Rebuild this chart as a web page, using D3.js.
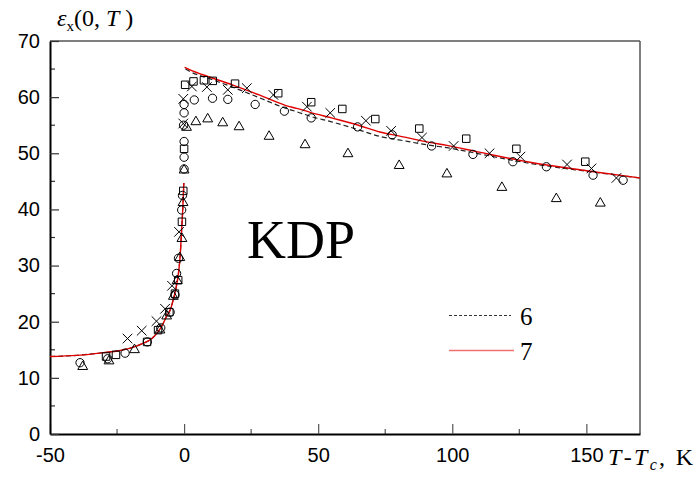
<!DOCTYPE html>
<html>
<head>
<meta charset="utf-8">
<script src="https://cdn.jsdelivr.net/npm/d3@7"></script>
<style>
  html, body { margin: 0; padding: 0; background: #fff; }
  svg { display: block; }
</style>
</head>
<body>
<svg id="chart" width="695" height="480"></svg>
<script>
// Permittivity of KDP versus T - Tc: four measured sets and two model curves (6, 7)
const squares = [
  [-29.1,13.8],[-25.4,14.1],[-13.8,16.4],[-9.7,18.5],[-5.5,21.7],[-3.4,25.0],[-2.2,27.4],
  [-0.8,37.8],[-0.3,43.3],[0.0,50.8],[0.4,62.2],[3.5,62.8],[7.4,63.0],[10.7,62.9],[19.0,62.4],
  [35.1,60.7],[47.4,59.1],[59.0,57.9],[71.3,56.1],[87.7,54.4],[105.2,52.6],[123.9,50.8],[149.6,48.5]
];
const crosses = [
  [-21.1,17.0],[-15.8,18.4],[-10.3,20.1],[-7.1,22.3],[-4.5,26.4],[-1.9,36.0],[-0.3,55.3],[-0.3,59.7],
  [2.9,61.9],[8.5,61.8],[16.3,61.3],[23.4,61.6],[33.3,60.4],[45.8,58.3],[54.5,57.2],[67.8,55.8],
  [77.2,54.0],[88.7,52.8],[100.5,51.3],[113.9,50.0],[125.4,49.4],[142.8,48.0],[151.9,47.3],[161.2,45.6]
];
const circles = [
  [-38.8,12.7],[-28.5,13.4],[-22.0,14.4],[-13.7,16.4],[-8.7,18.9],[-5.2,21.7],[-3.4,24.8],[-2.8,28.6],
  [-2.1,31.3],[-0.9,39.9],[-0.6,42.5],[0.0,47.2],[0.0,49.3],[0.0,52.1],[-0.2,55.0],[0.0,57.2],[0.0,58.7],
  [3.8,59.5],[10.6,59.8],[16.3,59.6],[26.5,58.7],[37.4,57.5],[47.4,56.3],[64.7,54.7],[77.6,53.3],
  [92.3,51.3],[107.7,49.8],[122.6,48.5],[135.1,47.6],[152.5,46.1],[163.7,45.2]
];
const triangles = [
  [-37.8,12.0],[-28.0,13.0],[-18.5,15.0],[-9.0,18.5],[-6.5,21.0],[-4.0,24.5],[-2.6,27.3],[-1.6,31.4],
  [-0.8,34.8],[-0.4,41.2],[0.0,47.0],[0.9,54.6],[4.4,55.6],[8.8,56.1],[14.4,55.4],[20.5,54.7],
  [31.7,53.0],[45.1,51.5],[61.1,49.9],[80.2,47.8],[98.0,46.3],[118.5,43.9],[138.8,41.9],[155.2,41.1]
];

// Model curves: below Tc (shared shape) and above Tc
const fit6Below = [
  [-50,13.8],[-40,14.0],[-30,14.5],[-26,14.7],[-20,15.3],[-16,16.0],[-12,17.0],[-10,18.0],[-8,19.5],
  [-6.5,21.0],[-5,22.3],[-4,24.0],[-3,26.0],[-2,29.0],[-1.5,31.5],[-0.9,36.5],[-0.5,40.0],[-0.1,44.7]
];
const fit6Above = [
  [0.5,65.0],[2,64.6],[10,63.2],[18,61.8],[28,59.9],[38,58.0],[42,57.4],[47,56.6],[55,55.6],[65,54.2],
  [73,53.0],[80,52.4],[92,51.4],[98,51.0],[110,49.9],[129,48.2],[150,46.8],[170,45.6]
];
const fit7Below = fit6Below.map(d => d.slice());
const fit7Above = [
  [0.2,65.3],[2,64.9],[10,63.5],[18,62.2],[28,60.4],[38,58.5],[42,58.0],[47,57.3],[55,56.3],[65,55.0],
  [73,53.8],[80,53.1],[92,51.9],[98,51.4],[110,50.2],[129,48.4],[150,46.9],[170,45.6]
];

const xTicks = [-50, 0, 50, 100, 150];
const yTicks = [0, 10, 20, 30, 40, 50, 60, 70];
const legendLabels = ["6", "7"];

const svg = d3.select("#chart");
const plotLeft = 50, plotRight = 640, plotTop = 41, plotBottom = 434;

const x = d3.scaleLinear().domain([-50, 170]).range([plotLeft, plotRight]);
const y = d3.scaleLinear().domain([0, 70]).range([plotBottom, plotTop]);

const axisFont = "'Liberation Sans', Arial, sans-serif";
const serif = "'Liberation Serif', 'Times New Roman', serif";
// plain hyphen for negative numbers
const fmt = d => String(d);

// frame: top and right edges
svg.append("line").attr("x1", plotLeft).attr("x2", plotRight).attr("y1", plotTop).attr("y2", plotTop)
  .attr("stroke", "#000").attr("stroke-width", 1.2);
svg.append("line").attr("x1", plotRight).attr("x2", plotRight).attr("y1", plotTop).attr("y2", plotBottom)
  .attr("stroke", "#555").attr("stroke-width", 1.5);

// minor ticks
const xMinor = d3.range(-25, 170, 50);
const yMinor = d3.range(5, 70, 10);
svg.append("g").selectAll("line").data(xMinor).join("line")
  .attr("x1", d => x(d)).attr("x2", d => x(d)).attr("y1", plotBottom).attr("y2", plotBottom - 5)
  .attr("stroke", "#555").attr("stroke-width", 1.2);
svg.append("g").selectAll("line").data(yMinor).join("line")
  .attr("x1", plotLeft).attr("x2", plotLeft + 5).attr("y1", d => y(d)).attr("y2", d => y(d))
  .attr("stroke", "#333").attr("stroke-width", 1.2);

// x axis
const gx = svg.append("g").attr("transform", `translate(0,${plotBottom})`)
  .call(d3.axisBottom(x).tickValues(xTicks).tickSizeInner(-10).tickSizeOuter(0).tickPadding(14).tickFormat(fmt));
gx.select(".domain").attr("stroke", "#000").attr("stroke-width", 2);
gx.selectAll(".tick line").attr("stroke", "#555").attr("stroke-width", 1.2);
gx.selectAll(".tick text").attr("font-family", axisFont).attr("font-size", 20).attr("fill", "#000");

// y axis
const gy = svg.append("g").attr("transform", `translate(${plotLeft},0)`)
  .call(d3.axisLeft(y).tickValues(yTicks).tickSizeInner(-9).tickSizeOuter(0).tickPadding(10).tickFormat(fmt));
gy.select(".domain").attr("stroke", "#000").attr("stroke-width", 2);
gy.selectAll(".tick line").attr("stroke", "#333").attr("stroke-width", 1.2);
gy.selectAll(".tick text").attr("font-family", axisFont).attr("font-size", 20).attr("fill", "#000");

// model curves
const line = d3.line().x(d => x(d[0])).y(d => y(d[1])).curve(d3.curveMonotoneX);
[fit6Below, fit6Above].forEach(arr => {
  svg.append("path").datum(arr).attr("d", line).attr("fill", "none")
    .attr("stroke", "#222").attr("stroke-width", 1.2).attr("stroke-dasharray", "5,3");
});
[fit7Below, fit7Above].forEach(arr => {
  svg.append("path").datum(arr).attr("d", line).attr("fill", "none")
    .attr("stroke", "#e00000").attr("stroke-width", 1.4);
});

// markers
const mk = svg.append("g").attr("fill", "none").attr("stroke", "#000").attr("stroke-width", 1);
mk.selectAll("path.sq").data(squares).join("path").attr("class", "sq")
  .attr("transform", d => `translate(${x(d[0])},${y(d[1])})`)
  .attr("d", d3.symbol(d3.symbolSquare, 56)());
mk.selectAll("path.ci").data(circles).join("path").attr("class", "ci")
  .attr("transform", d => `translate(${x(d[0])},${y(d[1])})`)
  .attr("d", d3.symbol(d3.symbolCircle, 54)());
mk.selectAll("path.tr").data(triangles).join("path").attr("class", "tr")
  .attr("transform", d => `translate(${x(d[0])},${y(d[1])})`)
  .attr("d", d3.symbol(d3.symbolTriangle, 42)());
mk.selectAll("path.cr").data(crosses).join("path").attr("class", "cr")
  .attr("transform", d => `translate(${x(d[0])},${y(d[1])})`)
  .attr("d", "M-4.8,-4.8L4.8,4.8M-4.8,4.8L4.8,-4.8");

// legend
const legY = [315.5, 350.5];
svg.append("line").attr("x1", 449).attr("x2", 511).attr("y1", legY[0]).attr("y2", legY[0])
  .attr("stroke", "#333").attr("stroke-width", 1.2).attr("stroke-dasharray", "3,2");
svg.append("line").attr("x1", 449).attr("x2", 514).attr("y1", legY[1]).attr("y2", legY[1])
  .attr("stroke", "#f07070").attr("stroke-width", 1.5);
svg.selectAll("text.leg").data(legendLabels).join("text").attr("class", "leg")
  .attr("x", 520).attr("y", (d, i) => legY[i] + 9)
  .attr("font-family", serif).attr("font-size", 25).text(d => d);

// big sample label
svg.append("text").attr("x", 247).attr("y", 258).attr("font-family", serif)
  .attr("font-size", 54).text("KDP");

// axis titles
const yt = svg.append("text").attr("x", 57).attr("y", 26).attr("font-family", serif).attr("font-size", 24);
yt.append("tspan").attr("font-style", "italic").text("ε");
yt.append("tspan").attr("font-size", 15).attr("dy", 5).text("x");
yt.append("tspan").attr("dy", -5).text("(0, ");
yt.append("tspan").attr("font-style", "italic").text("T");
yt.append("tspan").text(" )");

const xt = svg.append("text").attr("x", 608).attr("y", 465).attr("font-family", serif).attr("font-size", 24)
  .attr("textLength", 85).attr("lengthAdjust", "spacing");
xt.append("tspan").attr("font-style", "italic").text("T");
xt.append("tspan").text("-");
xt.append("tspan").attr("font-style", "italic").text("T");
xt.append("tspan").attr("font-style", "italic").attr("font-size", 16).attr("dy", 5).text("c");
xt.append("tspan").attr("dy", -5).text(", K");
</script>
</body>
</html>
